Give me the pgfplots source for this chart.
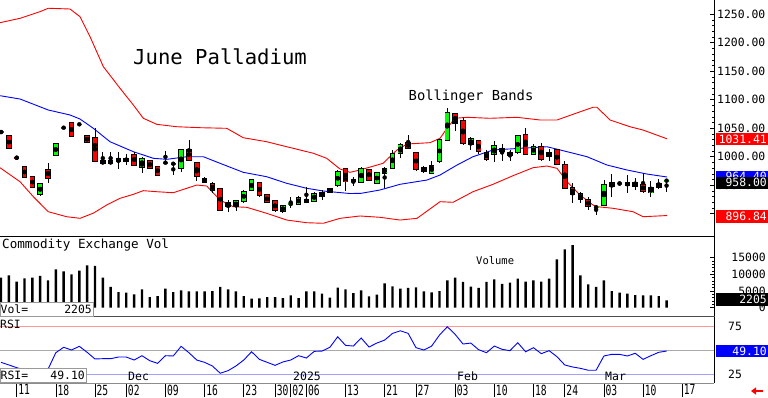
\documentclass[border=0pt]{standalone}
\usepackage{pgfplots}
\pgfplotsset{compat=1.18}
\usepackage{pgfplotstable}
\usepackage{fontspec}
\setmainfont{DejaVu Sans Mono}
\usetikzlibrary{arrows.meta}
\definecolor{cgreen}{RGB}{0,255,0}
\definecolor{cred}{RGB}{255,0,0}
\definecolor{cblue}{RGB}{0,0,255}
\newcommand{\fs}[1]{\fontsize{#1}{#1}\selectfont}
\newcommand{\dl}[1]{\scalebox{0.69}[1]{#1}}

% green (up) candles
\pgfplotstableread{
i o h l c
5 934.6 953.0 931.6 952.1
7 1002.5 1024.0 1001.0 1022.8
13 987.7 1007.7 987.0 992.5
14 987.7 1007.7 987.0 992.5
15 991.9 1007.7 977.9 997.2
16 991.9 1004.2 985.4 997.2
18 981.9 1000.0 971.9 997.2
23 979.6 1014.0 973.7 1013.0
30 912.3 924.0 905.3 922.3
31 922.3 941.6 919.3 938.6
32 940.4 960.0 939.0 959.1
36 903.5 915.0 902.0 914.0
38 916.5 931.0 915.0 928.1
40 922.3 938.6 921.0 934.6
41 929.8 941.6 924.0 936.8
42 937.5 944.5 936.0 943.3
43 950.3 976.6 947.4 974.0
46 954.4 982.5 953.3 978.4
48 953.3 973.0 952.0 971.9
49 970.9 982.5 944.6 979.6
50 979.6 1011.8 977.9 1006.0
51 1006.0 1024.6 997.2 1021.8
55 970.9 992.5 969.6 984.2
56 991.2 1031.1 988.4 1029.3
57 1029.3 1085.4 1027.0 1077.5
60 1021.8 1034.6 1011.8 1031.1
63 1004.7 1028.1 990.2 1019.3
66 1007.0 1038.1 1004.7 1036.3
68 1004.7 1021.8 1003.0 1017.5
70 1001.2 1013.5 992.5 1007.0
77 915.3 959.1 914.0 950.3
78 947.4 969.6 929.3 954.4
81 947.4 963.3 942.3 954.4
83 936.7 957.9 929.8 945.4
84 946.3 960.1 942.8 952.1
}\up

% red (down) candles
\pgfplotstableread{
i o h l c
1 1036.3 1037.0 1014.0 1015.3
3 982.5 984.0 962.0 963.9
4 964.9 966.0 945.0 946.3
6 977.9 988.4 954.4 962.1
9 1060.4 1061.0 1034.0 1035.1
11 1036.3 1037.0 1024.0 1025.3
12 1034.0 1049.8 991.0 992.5
17 1004.2 1007.7 984.0 985.4
19 993.0 994.0 978.0 979.6
20 983.2 984.0 966.0 967.9
24 1013.0 1029.3 993.0 994.2
25 990.2 991.0 957.9 964.9
26 962.1 964.9 953.3 955.1
27 952.1 955.1 936.8 940.4
28 944.6 945.1 905.0 906.5
29 920.0 924.0 903.5 912.3
33 954.4 955.0 930.0 931.6
34 932.8 934.0 918.0 919.3
35 922.8 924.0 902.5 905.3
39 925.3 947.4 919.0 920.0
44 979.6 980.5 940.7 956.1
45 959.1 963.9 948.6 956.1
47 977.9 979.0 958.0 959.1
52 1024.6 1037.5 1014.0 1014.7
53 1007.7 1008.5 975.4 977.9
54 981.4 983.7 971.9 973.7
58 1076.1 1077.0 1045.1 1058.6
59 1063.5 1070.2 1021.0 1022.8
61 1028.1 1029.0 1004.7 1008.8
62 1007.7 1011.8 993.0 995.4
64 1014.7 1022.3 992.5 1008.8
65 1007.0 1011.8 993.0 1003.0
67 1038.1 1049.8 1003.0 1004.2
69 1017.5 1024.6 993.0 995.4
71 1011.8 1013.0 985.0 986.7
72 985.4 993.0 944.0 944.6
73 945.6 953.3 918.2 934.0
74 935.1 938.6 919.6 924.9
75 924.6 929.8 906.5 913.0
80 954.0 967.9 935.8 949.7
82 951.8 970.9 936.3 938.6
}\down

% flat sessions (open = close)
\pgfplotstableread{
i p h l
0 1043.3 1043.3 1043.3
2 998.2 998.2 998.2
21 989.5 1010.0 989.5
22 987.7 987.7 967.9
}\flatred
\pgfplotstableread{
i p h l
37 917.0 929.8 909.5
76 911.4 916.1 897.7
79 953.0 953.0 953.0
85 958.0 960.1 938.6
}\flatgreen
\pgfplotstableread{
i p h l
8 1050.9 1050.9 1050.9
10 1056.8 1056.8 1056.8
}\flatgray

\pgfplotstableread{
x p
-0.13 1235.1
2.43 1242.8
4.98 1254.4
6.04 1260.4
8.81 1259.1
10.09 1245.6
11.37 1210.5
13.07 1157.9
15.2 1120.0
16.9 1090.7
18.17 1067.4
19.89 1056.8
22.44 1052.6
25.41 1050.9
28.83 1049.8
30.94 1033.3
33.93 1026.3
36.49 1017.5
39.89 1006.0
41.59 997.2
43.3 978.4
44.57 972.6
45.85 976.7
48.79 988.4
50.57 1011.8
51.85 1022.3
54.79 1024.6
56.07 1032.3
56.96 1049.8
57.98 1067.4
59.51 1069.1
62.45 1067.4
65.9 1069.1
68.84 1064.4
71.01 1064.4
73.05 1074.4
75.61 1086.7
76.12 1086.7
77.78 1064.4
80.33 1052.6
81.99 1046.8
85.06 1031.4
}\bbup

\pgfplotstableread{
x p
-0.13 1107.0
2.43 1101.2
6.04 1081.9
8.81 1073.2
10.09 1066.1
11.79 1049.8
13.92 1026.3
16.9 1008.8
19.45 997.2
21.16 995.4
23.72 1000.0
25.84 1000.0
27.97 988.4
30.94 972.6
33.93 964.9
36.49 953.3
39.04 944.6
41.16 939.8
44.57 935.4
46.0 935.8
48.4 941.6
50.96 951.6
54.41 959.1
56.07 967.9
58.24 985.4
60.28 1000.0
62.84 1011.8
66.28 1014.7
69.73 1017.5
72.29 1008.8
74.84 1000.0
77.39 985.4
79.95 976.7
82.5 969.6
85.06 964.4
}\bbmid

\pgfplotstableread{
x p
-0.13 980.7
2.43 956.1
4.13 929.8
6.04 903.5
8.39 894.7
10.09 891.9
11.79 901.0
13.5 915.3
15.2 927.0
16.9 934.0
18.17 940.4
19.89 938.6
22.0 936.8
23.72 944.6
24.99 950.3
26.27 948.6
27.97 924.0
29.67 912.3
31.38 911.2
33.93 900.7
36.49 888.9
39.04 884.2
41.16 883.2
43.3 891.9
45.85 896.0
48.4 893.7
50.96 888.9
53.13 891.9
56.07 921.1
57.73 920.0
60.28 938.6
62.84 951.6
65.39 966.7
67.94 980.7
69.73 983.7
71.01 979.6
72.29 956.1
73.95 932.8
75.61 915.3
76.12 912.3
78.16 909.5
80.72 903.5
81.99 894.7
85.06 896.8
}\bblow

\pgfplotstableread{
i v r
0 9000 37.4
1 9700 34.7
2 7800 31.9
3 8800 29.5
4 9000 26.7
5 9500 27.7
6 8200 30.2
7 11500 47.4
8 10900 53.0
9 10000 50.2
10 11100 54.0
11 12700 47.8
12 12500 40.9
13 9000 41.2
14 6200 41.2
15 4700 42.9
16 4500 42.9
17 4000 39.8
18 5500 44.3
19 3200 39.1
20 3500 36.4
21 5700 44.3
22 4700 44.0
23 5200 54.0
24 4900 47.4
25 4900 39.8
26 4900 37.4
27 5000 33.6
28 6200 26.1
29 5500 28.8
30 4900 33.6
31 3500 39.8
32 2700 48.4
33 2800 40.5
34 3200 37.4
35 3200 34.3
36 2900 37.8
37 3700 39.8
38 2900 44.3
39 4900 41.9
40 4900 48.8
41 4200 49.1
42 3000 53.0
43 6000 63.9
44 5500 55.0
45 4400 54.3
46 5200 62.6
47 3400 53.3
48 3900 57.4
49 7300 60.5
50 6400 67.4
51 5700 70.1
52 5900 67.4
53 6100 52.6
54 4900 50.2
55 4600 54.3
56 5000 65.7
57 8200 74.3
58 9000 66.4
59 7700 56.4
60 6300 57.4
61 5900 50.5
62 7700 47.4
63 8500 54.3
64 7100 50.9
65 7500 49.5
66 8700 57.7
67 7800 48.4
68 8200 52.6
69 7800 46.4
70 8700 49.5
71 14500 43.3
72 17500 34.7
73 18700 32.6
74 9700 31.2
75 7000 29.2
76 6200 29.2
77 8200 44.0
78 5000 45.7
79 4500 45.7
80 4200 44.0
81 3800 46.8
82 3700 40.5
83 3700 44.3
84 3500 47.8
85 2205 49.1
}\volrsi

\pgfplotsset{
  wick/.style={only marks, mark=none, error bars/.cd, y dir=both, y explicit, error mark=none,
    error bar style={draw=black, line width=0.8pt}},
  bodyout/.style={only marks, mark=none, error bars/.cd, y dir=both, y explicit, error mark=none,
    error bar style={draw=black, line width=5.6pt}},
  bodyin/.style={only marks, mark=none, error bars/.cd, y dir=both, y explicit, error mark=none,
    error bar style={draw=#1, line width=3.8pt}},
  dash/.style={only marks, mark=none, error bars/.cd, y dir=both, y explicit, error mark=none,
    error bar style={draw=#1, line width=5pt}},
}

\begin{document}
\begin{tikzpicture}[x=1pt,y=1pt]
\path[use as bounding box] (0,0) rectangle (768,397);

% ---------------- price panel
\begin{axis}[
  at={(0pt,161pt)}, anchor=south west, scale only axis,
  width=714pt, height=236pt,
  xmin=-0.13, xmax=91.06, ymin=860.9, ymax=1274.9,
  axis x line=none, axis y line*=right,
  axis line style={black, line width=0.8pt},
  ytick={900,950,1000,1050,1100,1150,1200,1250},
  yticklabels={,950.00,1000.00,1050.00,1100.00,1150.00,1200.00,1250.00},
  minor y tick num=4,
  tick align=inside, major tick length=4pt, minor tick length=2pt,
  tick style={black, line width=0.5pt},
  yticklabel style={font=\fs{11.4}, anchor=west, inner sep=0pt, xshift=3pt},
]
\addplot[cred, line width=0.9pt] table[x=x, y=p] {\bbup};
\addplot[cred, line width=0.9pt] table[x=x, y=p] {\bblow};
\addplot[cblue, line width=0.9pt] table[x=x, y=p] {\bbmid};
% wicks
\addplot[wick] table[x=i, y expr={(\thisrow{h}+\thisrow{l})/2}, y error expr={(\thisrow{h}-\thisrow{l})/2}] {\up};
\addplot[wick] table[x=i, y expr={(\thisrow{h}+\thisrow{l})/2}, y error expr={(\thisrow{h}-\thisrow{l})/2}] {\down};
\addplot[wick] table[x=i, y expr={(\thisrow{h}+\thisrow{l})/2}, y error expr={(\thisrow{h}-\thisrow{l})/2}] {\flatred};
\addplot[wick] table[x=i, y expr={(\thisrow{h}+\thisrow{l})/2}, y error expr={(\thisrow{h}-\thisrow{l})/2}] {\flatgreen};
% bodies
\addplot[bodyout] table[x=i, y expr={(\thisrow{o}+\thisrow{c})/2}, y error expr={abs(\thisrow{c}-\thisrow{o})/2+1.1}] {\up};
\addplot[bodyin=cgreen] table[x=i, y expr={(\thisrow{o}+\thisrow{c})/2}, y error expr={max(abs(\thisrow{c}-\thisrow{o})/2-0.4,0.5)}] {\up};
\addplot[bodyout] table[x=i, y expr={(\thisrow{o}+\thisrow{c})/2}, y error expr={abs(\thisrow{c}-\thisrow{o})/2+1.1}] {\down};
\addplot[bodyin=cred] table[x=i, y expr={(\thisrow{o}+\thisrow{c})/2}, y error expr={max(abs(\thisrow{c}-\thisrow{o})/2-0.4,0.5)}] {\down};
% flat sessions
\addplot[dash=cred] table[x=i, y=p, y error expr={1.0}] {\flatred};
\addplot[dash=cgreen] table[x=i, y=p, y error expr={1.0}] {\flatgreen};
\addplot[dash=black!60] table[x=i, y=p, y error expr={1.0}] {\flatgray};
\end{axis}

% ---------------- volume panel
\begin{axis}[
  at={(0pt,81pt)}, anchor=south west, scale only axis,
  width=714pt, height=79pt,
  xmin=-0.13, xmax=91.06, ymin=-2485, ymax=21168,
  axis x line=none, axis y line*=right,
  axis line style={black, line width=0.8pt},
  scaled y ticks=false,
  ytick={0,5000,10000,15000}, yticklabels={0,5000,10000,15000},
  minor y tick num=4,
  tick align=inside, major tick length=4pt, minor tick length=2pt,
  tick style={black, line width=0.5pt},
  yticklabel style={font=\fs{11.4}, anchor=east, inner sep=0pt, xshift=52pt},
]
\addplot[ybar, bar width=2.4pt, bar shift=0pt, fill=black, draw=none] table[x=i, y=v] {\volrsi};
\end{axis}

% ---------------- RSI panel
\begin{axis}[
  at={(0pt,14pt)}, anchor=south west, scale only axis,
  width=714pt, height=66pt,
  xmin=-0.13, xmax=91.06, ymin=16, ymax=84.4,
  axis x line*=bottom, axis y line*=right,
  x axis line style={black!45, line width=0.6pt},
  y axis line style={black, line width=0.8pt},
  ytick={25,75}, yticklabels={25,75},
  ytick style={draw=none},
  yticklabel style={font=\fs{11.4}, anchor=west, inner sep=0pt, xshift=0pt},
  xtick={2,7,12,16,21,26,31,35,37,39,44,49,53,58,63,68,72,77,82,87},
  xticklabels={\dl{11},\dl{18},\dl{25},\dl{02},\dl{09},\dl{16},\dl{23},\dl{30},\dl{02},\dl{06},\dl{13},\dl{21},\dl{27},\dl{03},\dl{10},\dl{18},\dl{24},\dl{03},\dl{10},\dl{17}},
  tick align=outside, major tick length=14pt,
  xtick style={black, line width=0.6pt},
  xticklabel style={font=\fs{14}, anchor=north west, inner sep=0pt, xshift=1.5pt, yshift=12.5pt},
  clip=false,
]
\addplot[color={rgb,255:red,255;green,150;blue,150}, line width=0.6pt] coordinates {(-0.13,75) (91.06,75)};
\addplot[color={rgb,255:red,170;green,170;blue,170}, line width=0.6pt] coordinates {(-0.13,50) (91.06,50)};
\addplot[color={rgb,255:red,160;green,160;blue,255}, line width=0.6pt] coordinates {(-0.13,25) (91.06,25)};
\addplot[cblue, line width=0.9pt] table[x=i, y=r] {\volrsi};
\end{axis}

% separators
\draw[black, line width=1.3pt] (0,160.7) -- (715,160.7);
\draw[black!70, line width=1.8pt] (0,80.5) -- (715,80.5);

% titles
\node[anchor=base west, inner sep=0pt, font=\fs{20.6}] at (133,332) {June Palladium};
\node[anchor=base west, inner sep=0pt, font=\fs{13.8}] at (408.5,296) {Bollinger Bands};
\node[anchor=base west, inner sep=0pt, font=\fs{12.6}] at (2,148.7) {Commodity Exchange Vol};
\node[anchor=base west, inner sep=0pt, font=\fs{10.5}] at (476,132.3) {Volume};
\node[anchor=base west, inner sep=0pt, font=\fs{11.4}] at (0,68.3) {RSI};
\node[anchor=base west, inner sep=0pt, font=\fs{11.5}] at (128,16.3) {Dec};
\node[anchor=base west, inner sep=0pt, font=\fs{11.5}] at (293,16.3) {2025};
\node[anchor=base west, inner sep=0pt, font=\fs{11.5}] at (457,16.3) {Feb};
\node[anchor=base west, inner sep=0pt, font=\fs{11.5}] at (605,16.3) {Mar};

% left value boxes
\draw[black!40, fill=white, line width=0.6pt] (0,81) rectangle (93,94.5);
\node[anchor=west, inner sep=0pt, font=\fs{11.4}] at (0.5,87.5) {Vol=};
\node[anchor=east, inner sep=0pt, font=\fs{11.4}] at (92,87.5) {2205};
\draw[black!40, fill=white, line width=0.6pt] (0,15) rectangle (86,28.5);
\node[anchor=west, inner sep=0pt, font=\fs{11.4}] at (0.5,21.7) {RSI=};
\node[anchor=east, inner sep=0pt, font=\fs{11.4}] at (85,21.7) {49.10};

% right value boxes
\fill[cred] (716,252) rectangle (768,264);
\node[anchor=east, inner sep=0pt, text=white, font=\fs{11.4}] at (767,258) {1031.41};
\fill[cblue] (716,215) rectangle (768,226.5);
\node[anchor=east, inner sep=0pt, text=white, font=\fs{11.4}] at (767,220.7) {964.40};
\fill[black] (716,208) rectangle (768,220.5);
\node[anchor=east, inner sep=0pt, text=white, font=\fs{11.4}] at (767,214.2) {958.00};
\fill[cred] (716,174) rectangle (768,187);
\node[anchor=east, inner sep=0pt, text=white, font=\fs{11.4}] at (767,180.5) {896.84};
\fill[black] (716,91) rectangle (768,104);
\node[anchor=east, inner sep=0pt, text=white, font=\fs{11.4}] at (767,97.5) {2205};
\fill[cblue] (716,40) rectangle (768,52);
\node[anchor=east, inner sep=0pt, text=white, font=\fs{11.4}] at (767,46) {49.10};

\draw[cred, line width=2pt, -{Triangle[length=5pt, width=7pt]}] (763,6) -- (751,6);
\end{tikzpicture}
\end{document}
